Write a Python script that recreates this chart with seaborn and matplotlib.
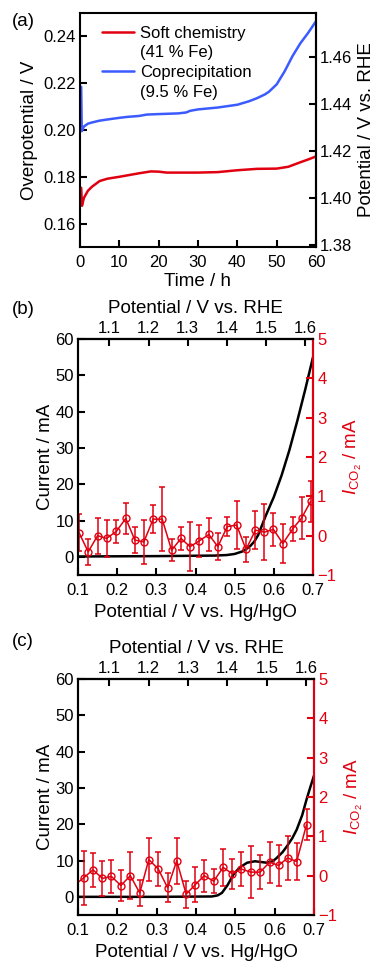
import numpy as np
import pandas as pd
import matplotlib
matplotlib.use("Agg")
import matplotlib.pyplot as plt
from matplotlib.lines import Line2D
import seaborn as sns

# ---- panel (a): chronopotentiometry ----
t_soft = [0.3, 0.5, 1, 2, 3, 5, 7, 10, 12, 15, 18, 20, 22, 25, 30, 35, 40, 45, 50, 53, 56, 58, 60]
eta_soft = [0.1753, 0.1676, 0.1710, 0.1740, 0.1757, 0.1782, 0.1792, 0.1800, 0.1806, 0.1815,
            0.1823, 0.1822, 0.1818, 0.1818, 0.1818, 0.1820, 0.1828, 0.1834, 0.1835, 0.1843,
            0.1862, 0.1874, 0.1887]
t_copr = [0.3, 0.45, 1, 2, 3, 5, 7, 10, 12, 15, 17, 20, 25, 27, 28, 30, 35, 40, 43, 45, 47, 48,
          50, 52, 54, 56, 58, 60]
eta_copr = [0.2185, 0.1995, 0.2015, 0.2027, 0.2032, 0.2040, 0.2045, 0.2052, 0.2056, 0.2060,
            0.2066, 0.2068, 0.2071, 0.2075, 0.2082, 0.2088, 0.2096, 0.2108, 0.2123, 0.2136,
            0.2152, 0.2163, 0.2195, 0.2250, 0.2315, 0.2370, 0.2415, 0.2465]
series_names = ["Soft chemistry", "Coprecipitation"]
series_fe = ["(41 % Fe)", "(9.5 % Fe)"]
E0 = 1.229
rhe_ticks = [1.38, 1.40, 1.42, 1.44, 1.46]

# ---- panel (b): soft chemistry LSV + CO2 current ----
E_b = [0.10, 0.20, 0.30, 0.40, 0.45, 0.48, 0.50, 0.52, 0.53, 0.54, 0.55, 0.56, 0.58, 0.60,
       0.62, 0.64, 0.66, 0.68, 0.70]
I_b = [0.1, 0.15, 0.2, 0.3, 0.35, 0.5, 0.8, 1.5, 2.2, 3.0, 4.2, 6.0, 11.5, 16.5, 22.5, 29.5,
       37.5, 46.0, 55.0]
Ep_b = [0.1025, 0.126, 0.150, 0.173, 0.198, 0.222, 0.245, 0.268, 0.292, 0.315, 0.339,
        0.363, 0.386, 0.410, 0.434, 0.457, 0.481, 0.505, 0.529, 0.553, 0.576, 0.599, 0.623,
        0.648, 0.671, 0.694]
ico2_b = [0.08, -0.41, 0.0, -0.07, 0.11, 0.44, -0.11, -0.16, 0.42, 0.42, -0.37, -0.07, -0.28,
          -0.13, 0.03, -0.28, 0.23, 0.27, -0.35, 0.14, 0.09, 0.16, -0.20, 0.17, 0.45, 0.87]
err_b = [0.46, 0.33, 0.46, 0.48, 0.29, 0.39, 0.33, 0.55, 0.36, 0.81, 0.28, 0.29, 0.62, 0.40,
         0.43, 0.35, 0.24, 0.60, 0.32, 0.48, 0.72, 0.42, 0.49, 0.30, 0.53, 0.51]

# ---- panel (c): coprecipitation LSV + CO2 current ----
E_c = [0.10, 0.30, 0.44, 0.455, 0.466, 0.48, 0.495, 0.51, 0.53, 0.55, 0.565, 0.58, 0.595,
       0.605, 0.62, 0.631, 0.645, 0.656, 0.67, 0.681, 0.69, 0.70]
I_c = [0.0, 0.0, 0.1, 0.4, 1.1, 3.2, 6.1, 8.0, 9.4, 9.8, 9.6, 9.4, 9.8, 10.7, 12.3, 13.9,
       16.2, 18.5, 22.5, 26.8, 30.0, 33.4]
Ep_c = [0.0905, 0.114, 0.138, 0.162, 0.185, 0.209, 0.233, 0.257, 0.280, 0.304, 0.328, 0.351,
        0.375, 0.398, 0.421, 0.445, 0.469, 0.492, 0.515, 0.539, 0.563, 0.587, 0.610, 0.633,
        0.656, 0.681]
ico2_c = [-0.24, -0.06, 0.15, -0.07, -0.02, -0.25, 0.0, -0.44, 0.41, 0.17, -0.31, 0.38, -0.47,
          -0.23, 0.0, -0.14, 0.21, 0.05, 0.17, 0.09, 0.09, 0.34, 0.26, 0.45, 0.36, 1.30]
err_c = [0.50, 0.69, 0.43, 0.45, 0.42, 0.39, 0.60, 0.34, 0.54, 0.44, 0.37, 0.58, 0.34, 0.45,
         0.41, 0.30, 0.48, 0.38, 0.42, 0.67, 0.43, 0.52, 0.53, 0.55, 0.47, 0.39]

HGO_TO_RHE = 0.92
rhe_top = [1.1, 1.2, 1.3, 1.4, 1.5, 1.6]

RED = "#e00010"
BLUE = "#3b5bff"

sns.set_theme(style="ticks", rc={
    "xtick.direction": "in", "ytick.direction": "in",
    "xtick.major.size": 5, "ytick.major.size": 5,
    "xtick.major.width": 1.5, "ytick.major.width": 1.5,
    "axes.linewidth": 1.5, "axes.edgecolor": "black",
    "text.color": "black", "axes.labelcolor": "black",
    "xtick.color": "black", "ytick.color": "black",
    "xtick.labelsize": 12, "ytick.labelsize": 12,
    "axes.labelsize": 13.5, "xtick.major.pad": 6, "ytick.major.pad": 3,
})
plt.rcParams["font.family"] = ["Liberation Sans", "DejaVu Sans"]
plt.rcParams["mathtext.fontset"] = "custom"
plt.rcParams["mathtext.rm"] = "Liberation Sans"
plt.rcParams["mathtext.it"] = "Liberation Sans:italic"

W, H = 382, 965
fig = plt.figure(figsize=(W / 100, H / 100), dpi=100)


def px_axes(l, r, t, b):
    return fig.add_axes([l / W, 1 - b / H, (r - l) / W, (b - t) / H])


# ===== (a) =====
ax = px_axes(80, 316, 13, 247)
sns.lineplot(x=t_soft, y=eta_soft, ax=ax, color=RED, lw=1.8, label=series_names[0])
sns.lineplot(x=t_copr, y=eta_copr, ax=ax, color=BLUE, lw=1.8, label=series_names[1])
ax.set_xlim(0, 60)
ax.set_ylim(0.15, 0.25)
ax.set_xticks([0, 10, 20, 30, 40, 50, 60])
ax.set_yticks([0.16, 0.18, 0.20, 0.22, 0.24])
ax.set_xlabel("Time / h", labelpad=2)
ax.set_ylabel("Overpotential / V")
# handle next to the first line of each two-line entry
handles, _ = ax.get_legend_handles_labels()
blank = Line2D([], [], color="none")
ax.legend([handles[0], blank, handles[1], blank],
          [series_names[0], series_fe[0], series_names[1], series_fe[1]],
          loc="upper left", frameon=False, fontsize=12, handlelength=1.9,
          borderaxespad=0.35, bbox_to_anchor=(0.04, 1.0), labelspacing=0.28,
          handletextpad=0.4)
sec = ax.secondary_yaxis("right", functions=(lambda y: y + E0, lambda y: y - E0))
sec.set_yticks(rhe_ticks)
sec.set_ylabel("Potential / V vs. RHE")
sec.tick_params(direction="in", length=5, width=1.5)
fig.text(12 / W, 1 - 22 / H, "(a)", fontsize=13.5, va="center")


# ===== (b), (c) =====
def lsv_panel(ax, E, I, Ep, ico2, err):
    sns.lineplot(x=E, y=I, ax=ax, color="black", lw=1.8)
    ax.set_xlim(0.1, 0.7)
    ax.set_ylim(-5, 60)
    ax.set_xticks([0.1, 0.2, 0.3, 0.4, 0.5, 0.6, 0.7])
    ax.set_yticks([0, 10, 20, 30, 40, 50, 60])
    ax.set_xlabel("Potential / V vs. Hg/HgO", labelpad=4)
    ax.set_ylabel("Current / mA", labelpad=1)
    top = ax.secondary_xaxis("top", functions=(lambda x: x + HGO_TO_RHE,
                                               lambda x: x - HGO_TO_RHE))
    top.set_xticks(rhe_top)
    top.tick_params(direction="in", length=5, width=1.5, pad=2)
    top.set_xlabel("Potential / V vs. RHE", labelpad=6)
    ax2 = ax.twinx()
    ax2.errorbar(Ep, ico2, yerr=err, fmt="none", ecolor=RED, elinewidth=1.1,
                 capsize=2.5, capthick=1.1)
    sns.lineplot(x=Ep, y=ico2, ax=ax2, color=RED, lw=1.1, marker="o", ms=5,
                 markerfacecolor="none", markeredgecolor=RED, markeredgewidth=1.0)
    ax2.set_ylim(-1, 5)
    ax2.set_yticks([-1, 0, 1, 2, 3, 4, 5])
    ax2.spines["right"].set_color(RED)
    ax2.tick_params(axis="y", colors=RED, direction="in", length=5, width=1.5)
    ax2.set_ylabel(r"$I_{\mathrm{CO_2}}$ / mA", color=RED)
    return ax2


axb = px_axes(78, 313, 339, 575)
lsv_panel(axb, E_b, I_b, Ep_b, ico2_b, err_b)
fig.text(12 / W, 1 - 310 / H, "(b)", fontsize=13.5, va="center")

axc = px_axes(78, 314, 679, 915)
lsv_panel(axc, E_c, I_c, Ep_c, ico2_c, err_c)
fig.text(12 / W, 1 - 641 / H, "(c)", fontsize=13.5, va="center")

fig.savefig("out.png", dpi=100)
